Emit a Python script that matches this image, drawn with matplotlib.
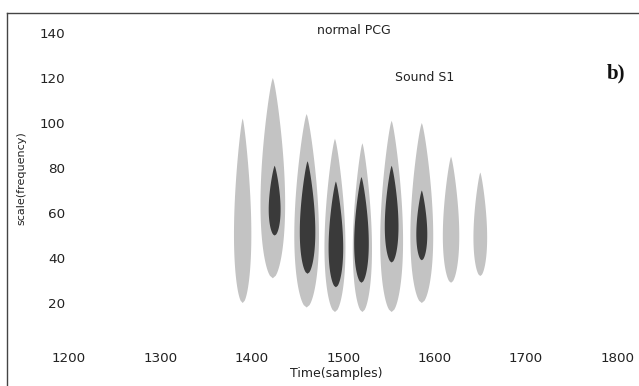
import numpy as np
import matplotlib
matplotlib.use("Agg")
import matplotlib.pyplot as plt

# ── Scalogram blobs (time centre, scale bottom, scale top, width in samples) ──
light_t = [1390, 1423, 1460, 1491, 1521, 1553, 1586, 1618, 1650]
light_bot = [20, 31, 18, 16, 16, 16, 20, 29, 32]
light_top = [102, 120, 104, 93, 91, 101, 100, 85, 78]
light_w = [19, 27, 27, 23, 21, 25, 25, 18, 15]

dark_t = [1425, 1461, 1492, 1520, 1553, 1586]
dark_bot = [50, 33, 27, 29, 38, 39]
dark_top = [81, 83, 74, 76, 81, 70]
dark_w = [13, 17, 16, 16, 15, 12]

x_ticks = [1200, 1300, 1400, 1500, 1600, 1700, 1800]
y_ticks = [20, 40, 60, 80, 100, 120, 140]

LIGHT = "#c3c3c3"
DARK = "#3a3a3a"


def blob(cx, bot, top, width, n=80):
    t = np.linspace(0, 1, n)
    u = t ** 0.7
    half = width / 2 * np.sin(np.pi * u) ** 0.75
    ys = bot + t * (top - bot)
    xs = np.concatenate([cx - half, (cx + half)[::-1]])
    return xs, np.concatenate([ys, ys[::-1]])


W, H = 639, 386
fig = plt.figure(figsize=(W / 100, H / 100), dpi=100)

# axes in pixels: left 7, right beyond edge, top 12.5, bottom beyond edge
left_px, right_px, top_px, bot_px = 7, 646, 12.5, 395
ax = fig.add_axes([left_px / W, 1 - bot_px / H,
                   (right_px - left_px) / W, (bot_px - top_px) / H])

# pixel -> data mapping
xs_px = 0.914  # px per sample
ys_px = 2.25   # px per scale unit
ax.set_xlim(1200 + (left_px - 69) / xs_px, 1200 + (right_px - 69) / xs_px)
ax.set_ylim(140 - (bot_px - 33) / ys_px, 140 - (top_px - 33) / ys_px)

for cx, b, t, w in zip(light_t, light_bot, light_top, light_w):
    bx, by = blob(cx, b, t, w)
    ax.fill(bx, by, color=LIGHT, lw=0, zorder=2)
for cx, b, t, w in zip(dark_t, dark_bot, dark_top, dark_w):
    bx, by = blob(cx, b, t, w)
    ax.fill(bx, by, color=DARK, lw=0, zorder=3)

for s in ["right", "bottom"]:
    ax.spines[s].set_visible(False)
for s in ["left", "top"]:
    ax.spines[s].set_color("#444444")
    ax.spines[s].set_linewidth(1.0)

ax.set_xticks(x_ticks)
ax.set_yticks(y_ticks)
ax.tick_params(axis="x", length=0, pad=-31, labelsize=9.7, labelcolor="#222222")
ax.tick_params(axis="y", length=0, pad=-42, labelsize=9.7, labelcolor="#222222")

ax.text(1512, 141, "normal PCG", ha="center", va="center", fontsize=9,
        color="#222222")
ax.text(1589, 120.4, "Sound S1", ha="center", va="center", fontsize=9,
        color="#222222")
ax.text(1798, 122, "b)", ha="center", va="center", fontsize=15,
        fontweight="bold", family="Liberation Serif", color="#111111")

fig.text(21 / W, 1 - 178 / H, "scale(frequency)", rotation=90, ha="center",
         va="center", fontsize=8, color="#222222")
fig.text(336 / W, 1 - 374 / H, "Time(samples)", ha="center", va="center",
         fontsize=9, color="#222222")

fig.savefig("out.png", dpi=100)
